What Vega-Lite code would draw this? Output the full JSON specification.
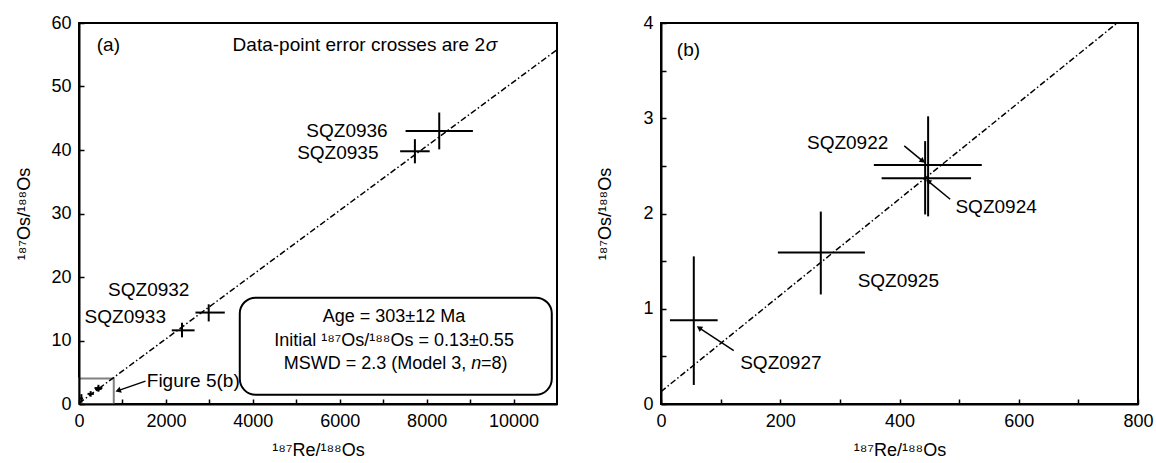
{
  "$schema": "https://vega.github.io/schema/vega-lite/v6.json",
  "background": "white",
  "padding": {"left": 14, "top": 13, "right": 2, "bottom": 0},
  "config": {
    "font": "Liberation Sans",
    "view": {"stroke": "black", "strokeWidth": 2},
    "axis": {
      "domainColor": "black", "domainWidth": 2,
      "labelColor": "black", "labelFontSize": 18, "labelFont": "Liberation Sans",
      "titleFont": "Liberation Sans", "titleFontSize": 18, "titleFontWeight": "normal", "titleColor": "black",
      "grid": false, "labelOverlap": false, "labelFlush": false
    },
    "text": {"font": "Liberation Sans", "fontSize": 19, "color": "black"},
    "concat": {"spacing": 37}
  },
  "datasets": {
    "pts": [
      {"name": "SQZ0936", "x": 8290, "xlo": 7515, "xhi": 9065, "y": 43.0, "ylo": 40.1, "yhi": 45.9},
      {"name": "SQZ0935", "x": 7730, "xlo": 7390, "xhi": 8070, "y": 39.8, "ylo": 37.9, "yhi": 41.7},
      {"name": "SQZ0932", "x": 2985, "xlo": 2680, "xhi": 3355, "y": 14.4, "ylo": 13.0, "yhi": 15.7},
      {"name": "SQZ0933", "x": 2370, "xlo": 2135, "xhi": 2660, "y": 11.6, "ylo": 10.5, "yhi": 12.8},
      {"name": "SQZ0927", "x": 55, "xlo": 15, "xhi": 95, "y": 0.88, "ylo": 0.2, "yhi": 1.55},
      {"name": "SQZ0925", "x": 268, "xlo": 196, "xhi": 342, "y": 1.59, "ylo": 1.15, "yhi": 2.02},
      {"name": "SQZ0922", "x": 448, "xlo": 357, "xhi": 538, "y": 2.51, "ylo": 1.97, "yhi": 3.02},
      {"name": "SQZ0924", "x": 443, "xlo": 370, "xhi": 520, "y": 2.37, "ylo": 1.99, "yhi": 2.76}
    ],
    "lineA": [{"x": 0, "y": 0.13}, {"x": 11000, "y": 55.79}],
    "lineB": [{"x": 0, "y": 0.13}, {"x": 765, "y": 4.0}],
    "labelsA": [
      {"x": 676, "y": 56.6, "t": "(a)"},
      {"x": 6167, "y": 43.0, "t": "SQZ0936"},
      {"x": 5956, "y": 39.5, "t": "SQZ0935"},
      {"x": 1605, "y": 17.9, "t": "SQZ0932"},
      {"x": 1065, "y": 13.7, "t": "SQZ0933"}
    ],
    "boxText": [
      {"x": 7249, "y": 13.7, "t": "Age = 303±12 Ma"},
      {"x": 7249, "y": 9.94, "t": "Initial ¹⁸⁷Os/¹⁸⁸Os = 0.13±0.55"}
    ],
    "labelsB": [
      {"x": 46, "y": 3.72, "t": "(b)"},
      {"x": 313, "y": 2.74, "t": "SQZ0922"},
      {"x": 562, "y": 2.07, "t": "SQZ0924"},
      {"x": 398, "y": 1.29, "t": "SQZ0925"},
      {"x": 201, "y": 0.43, "t": "SQZ0927"}
    ],
    "arrowsB": [
      {"x": 408, "y": 2.71, "x2": 439, "y2": 2.55},
      {"x": 485, "y": 2.15, "x2": 448, "y2": 2.34},
      {"x": 122, "y": 0.56, "x2": 64, "y2": 0.8}
    ]
  },
  "hconcat": [
    {
      "width": 478,
      "height": 381,
      "layer": [
        {
          "data": {"values": [{"x": 0, "x2": 800, "y": 0, "y2": 4}]},
          "mark": {"type": "rect", "fill": "white", "fillOpacity": 0, "stroke": "#808080", "strokeWidth": 2},
          "encoding": {
            "x": {"field": "x", "type": "quantitative", "scale": {"domain": [0, 11000], "nice": false},
              "axis": {"title": "¹⁸⁷Re/¹⁸⁸Os", "values": [0, 1000, 2000, 3000, 4000, 5000, 6000, 7000, 8000, 9000, 10000],
                "labelExpr": "datum.value % 2000 === 0 ? format(datum.value, 'd') : ''",
                "ticks": true, "tickColor": "black", "tickWidth": 1.5, "tickSize": -5, "zindex": 1,
                "labelPadding": 13, "titlePadding": 11}},
            "x2": {"field": "x2"},
            "y": {"field": "y", "type": "quantitative", "scale": {"domain": [0, 60], "nice": false},
              "axis": {"title": "¹⁸⁷Os/¹⁸⁸Os", "values": [0, 5, 10, 15, 20, 25, 30, 35, 40, 45, 50, 55, 60],
                "labelExpr": "datum.value % 10 === 0 ? format(datum.value, 'd') : ''",
                "ticks": true, "tickColor": "black", "tickWidth": 1.5, "tickSize": -5, "zindex": 1,
                "labelPadding": 13, "titlePadding": 17}},
            "y2": {"field": "y2"}
          }
        },
        {
          "data": {"name": "lineA"},
          "mark": {"type": "line", "color": "black", "strokeWidth": 1.5, "strokeDash": [6, 2.5, 1.5, 2.5], "clip": true},
          "encoding": {"x": {"field": "x", "type": "quantitative"}, "y": {"field": "y", "type": "quantitative"}}
        },
        {
          "data": {"name": "pts"},
          "mark": {"type": "rule", "color": "black", "strokeWidth": 2},
          "encoding": {"x": {"field": "xlo", "type": "quantitative"}, "x2": {"field": "xhi"}, "y": {"field": "y", "type": "quantitative"}}
        },
        {
          "data": {"name": "pts"},
          "mark": {"type": "rule", "color": "black", "strokeWidth": 2},
          "encoding": {"x": {"field": "x", "type": "quantitative"}, "y": {"field": "ylo", "type": "quantitative"}, "y2": {"field": "yhi"}}
        },
        {
          "data": {"values": [{"x": 3700, "x2": 10880, "y": 1.45, "y2": 16.75}]},
          "mark": {"type": "rect", "fill": "white", "stroke": "black", "strokeWidth": 2, "cornerRadius": 16},
          "encoding": {"x": {"field": "x", "type": "quantitative"}, "x2": {"field": "x2"}, "y": {"field": "y", "type": "quantitative"}, "y2": {"field": "y2"}}
        },
        {
          "data": {"name": "boxText"},
          "mark": {"type": "text", "fontSize": 18},
          "encoding": {"x": {"field": "x", "type": "quantitative"}, "y": {"field": "y", "type": "quantitative"}, "text": {"field": "t"}}
        },
        {
          "data": {"values": [{"x": 8912, "y": 6.28, "t": "MSWD = 2.3 (Model 3,"}]},
          "mark": {"type": "text", "fontSize": 18, "align": "right"},
          "encoding": {"x": {"field": "x", "type": "quantitative"}, "y": {"field": "y", "type": "quantitative"}, "text": {"field": "t"}}
        },
        {
          "data": {"values": [{"x": 9143, "y": 6.28, "t": "n"}]},
          "mark": {"type": "text", "fontSize": 18, "fontStyle": "italic"},
          "encoding": {"x": {"field": "x", "type": "quantitative"}, "y": {"field": "y", "type": "quantitative"}, "text": {"field": "t"}}
        },
        {
          "data": {"values": [{"x": 9253, "y": 6.28, "t": "=8)"}]},
          "mark": {"type": "text", "fontSize": 18, "align": "left"},
          "encoding": {"x": {"field": "x", "type": "quantitative"}, "y": {"field": "y", "type": "quantitative"}, "text": {"field": "t"}}
        },
        {
          "data": {"values": [{"x": 9343, "y": 56.6, "t": "Data-point error crosses are 2"}]},
          "mark": {"type": "text", "fontSize": 19, "align": "right"},
          "encoding": {"x": {"field": "x", "type": "quantitative"}, "y": {"field": "y", "type": "quantitative"}, "text": {"field": "t"}}
        },
        {
          "data": {"values": [{"x": 9360, "y": 56.6, "t": "σ"}]},
          "mark": {"type": "text", "fontSize": 19, "align": "left", "fontStyle": "italic"},
          "encoding": {"x": {"field": "x", "type": "quantitative"}, "y": {"field": "y", "type": "quantitative"}, "text": {"field": "t"}}
        },
        {
          "data": {"name": "labelsA"},
          "mark": {"type": "text", "fontSize": 19},
          "encoding": {"x": {"field": "x", "type": "quantitative"}, "y": {"field": "y", "type": "quantitative"}, "text": {"field": "t"}}
        },
        {
          "data": {"values": [{"x": 1560, "y": 3.6, "t": "Figure 5(b)"}]},
          "mark": {"type": "text", "fontSize": 19, "align": "left"},
          "encoding": {"x": {"field": "x", "type": "quantitative"}, "y": {"field": "y", "type": "quantitative"}, "text": {"field": "t"}}
        },
        {
          "data": {"values": [{"x": 1530, "y": 3.6, "x2": 900, "y2": 2.1}]},
          "mark": {"type": "rule", "color": "black", "strokeWidth": 1.5},
          "encoding": {"x": {"field": "x", "type": "quantitative"}, "x2": {"field": "x2"}, "y": {"field": "y", "type": "quantitative"}, "y2": {"field": "y2"}}
        },
        {
          "data": {"values": [{"x": 900, "y": 2.1}]},
          "mark": {"type": "point", "shape": "triangle-right", "filled": true, "color": "black", "size": 40, "angle": 160, "opacity": 1},
          "encoding": {"x": {"field": "x", "type": "quantitative"}, "y": {"field": "y", "type": "quantitative"}}
        }
      ]
    },
    {
      "width": 477,
      "height": 381,
      "layer": [
        {
          "data": {"name": "lineB"},
          "mark": {"type": "line", "color": "black", "strokeWidth": 1.5, "strokeDash": [6, 2.5, 1.5, 2.5], "clip": true},
          "encoding": {
            "x": {"field": "x", "type": "quantitative", "scale": {"domain": [0, 800], "nice": false},
              "axis": {"title": "¹⁸⁷Re/¹⁸⁸Os", "values": [0, 100, 200, 300, 400, 500, 600, 700, 800],
                "labelExpr": "datum.value % 200 === 0 ? format(datum.value, 'd') : ''",
                "ticks": true, "tickColor": "black", "tickWidth": 1.5, "tickSize": -5, "zindex": 1,
                "labelPadding": 13, "titlePadding": 11}},
            "y": {"field": "y", "type": "quantitative", "scale": {"domain": [0, 4], "nice": false},
              "axis": {"title": "¹⁸⁷Os/¹⁸⁸Os", "values": [0, 0.5, 1, 1.5, 2, 2.5, 3, 3.5, 4],
                "labelExpr": "datum.value % 1 === 0 ? format(datum.value, 'd') : ''",
                "ticks": true, "tickColor": "black", "tickWidth": 1.5, "tickSize": -5, "zindex": 1,
                "labelPadding": 13, "titlePadding": 28}}
          }
        },
        {
          "data": {"name": "pts"},
          "transform": [{"filter": "datum.x < 800"}],
          "mark": {"type": "rule", "color": "black", "strokeWidth": 2},
          "encoding": {"x": {"field": "xlo", "type": "quantitative"}, "x2": {"field": "xhi"}, "y": {"field": "y", "type": "quantitative"}}
        },
        {
          "data": {"name": "pts"},
          "transform": [{"filter": "datum.x < 800"}],
          "mark": {"type": "rule", "color": "black", "strokeWidth": 2},
          "encoding": {"x": {"field": "x", "type": "quantitative"}, "y": {"field": "ylo", "type": "quantitative"}, "y2": {"field": "yhi"}}
        },
        {
          "data": {"name": "labelsB"},
          "mark": {"type": "text", "fontSize": 19},
          "encoding": {"x": {"field": "x", "type": "quantitative"}, "y": {"field": "y", "type": "quantitative"}, "text": {"field": "t"}}
        },
        {
          "data": {"name": "arrowsB"},
          "mark": {"type": "rule", "color": "black", "strokeWidth": 1.5},
          "encoding": {"x": {"field": "x", "type": "quantitative"}, "x2": {"field": "x2"}, "y": {"field": "y", "type": "quantitative"}, "y2": {"field": "y2"}}
        },
        {
          "data": {"values": [{"x": 439, "y": 2.55}]},
          "mark": {"type": "point", "shape": "triangle-right", "filled": true, "color": "black", "size": 40, "angle": 39, "opacity": 1},
          "encoding": {"x": {"field": "x", "type": "quantitative"}, "y": {"field": "y", "type": "quantitative"}}
        },
        {
          "data": {"values": [{"x": 448, "y": 2.34}]},
          "mark": {"type": "point", "shape": "triangle-right", "filled": true, "color": "black", "size": 40, "angle": 219, "opacity": 1},
          "encoding": {"x": {"field": "x", "type": "quantitative"}, "y": {"field": "y", "type": "quantitative"}}
        },
        {
          "data": {"values": [{"x": 64, "y": 0.8}]},
          "mark": {"type": "point", "shape": "triangle-right", "filled": true, "color": "black", "size": 40, "angle": 213, "opacity": 1},
          "encoding": {"x": {"field": "x", "type": "quantitative"}, "y": {"field": "y", "type": "quantitative"}}
        }
      ]
    }
  ]
}
